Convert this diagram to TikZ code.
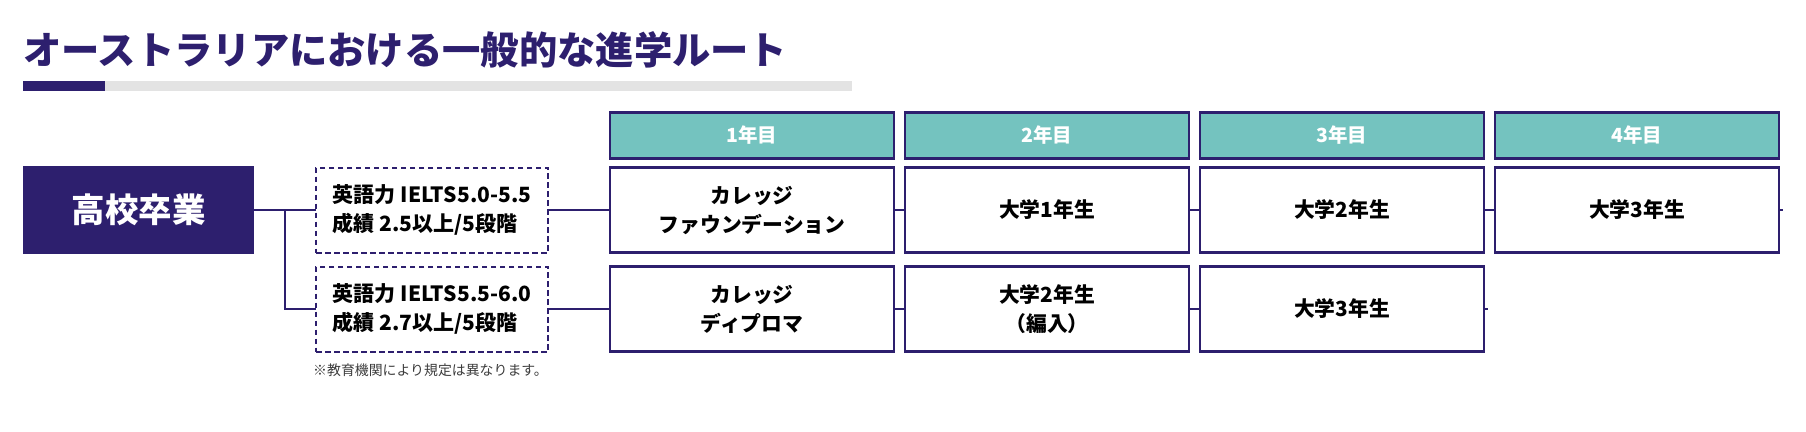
\documentclass[tikz,border=0pt]{standalone}
\usepackage{fontspec}
\setmainfont{Noto Sans CJK JP}
\definecolor{navy}{RGB}{45,31,110}
\definecolor{teal2}{RGB}{116,195,191}
\definecolor{barGray}{RGB}{227,227,227}
\definecolor{noteGray}{RGB}{60,60,60}
\tikzset{
  hdr/.style={draw=navy, line width=2.2pt, fill=teal2, minimum width=284pt, minimum height=46pt, inner sep=0pt, outer sep=0pt, text=white, font=\bfseries\fontsize{19.5}{24}\selectfont},
  rowbox/.style={draw=navy, line width=2.2pt, fill=white, minimum width=284pt, minimum height=85pt, inner sep=0pt, outer sep=0pt, align=center, font=\bfseries\fontsize{20.8}{29}\selectfont},
  reqbox/.style={draw=navy, line width=2pt, dash pattern=on 5.5pt off 3.5pt, minimum width=232pt, minimum height=85pt, inner sep=0pt, outer sep=0pt, align=left, font=\bfseries\fontsize{21}{29}\selectfont},
  conn/.style={draw=navy, line width=2pt},
}
\begin{document}
\begin{tikzpicture}[x=1pt, y=-1pt]
\useasboundingbox (0,0) rectangle (1806,431);
% title
\node[anchor=west, inner sep=0pt, text=navy, font=\bfseries\fontsize{38.3}{44}\selectfont] (title) at (23,50) {オーストラリアにおける一般的な進学ルート};
\fill[barGray] (105,81) rectangle (852,91);
\fill[navy] (23,81) rectangle (105,91);
% start
\node[fill=navy, minimum width=231pt, minimum height=88pt, inner sep=0pt, outer sep=0pt, text=white, font=\bfseries\fontsize{33.5}{40}\selectfont] (hs) at (138.5,210) {高校卒業};
% requirement boxes
\node[reqbox] (d1) at (432,210) {英語力 IELTS5.0-5.5\\成績 2.5以上/5段階};
\node[reqbox] (d2) at (432,309) {英語力 IELTS5.5-6.0\\成績 2.7以上/5段階};
\node[anchor=west, inner sep=0pt, text=noteGray, font=\fontsize{13.9}{16}\selectfont] (note) at (313,370) {※教育機関により規定は異なります。};
% headers
\node[hdr] (h1) at (752,135.5) {1年目};
\node[hdr] (h2) at (1047,135.5) {2年目};
\node[hdr] (h3) at (1342,135.5) {3年目};
\node[hdr] (h4) at (1637,135.5) {4年目};
% row 1
\node[rowbox] (r11) at (752,210) {カレッジ\\ファウンデーション};
\node[rowbox] (r12) at (1047,210) {大学1年生};
\node[rowbox] (r13) at (1342,210) {大学2年生};
\node[rowbox] (r14) at (1637,210) {大学3年生};
% row 2
\node[rowbox] (r21) at (752,309) {カレッジ\\ディプロマ};
\node[rowbox] (r22) at (1047,309) {大学2年生\\（編入）};
\node[rowbox] (r23) at (1342,309) {大学3年生};
% connectors
\coordinate (br) at (285,210);
\coordinate (e1) at (1783,210);
\coordinate (e2) at (1488,309);
\draw[conn] (hs.east) -- (d1.west);
\draw[conn] (br) |- (d2.west);
\draw[conn] (d1.east) -- (r11.west);
\draw[conn] (d2.east) -- (r21.west);
\draw[conn] (r11.east) -- (r12.west);
\draw[conn] (r12.east) -- (r13.west);
\draw[conn] (r13.east) -- (r14.west);
\draw[conn] (r14.east) -- (e1);
\draw[conn] (r21.east) -- (r22.west);
\draw[conn] (r22.east) -- (r23.west);
\draw[conn] (r23.east) -- (e2);
\end{tikzpicture}
\end{document}
